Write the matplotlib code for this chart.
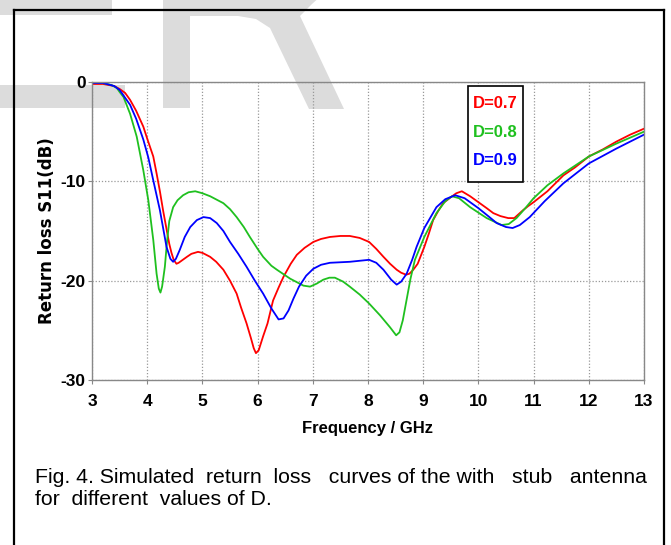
import numpy as np
import matplotlib
matplotlib.use("Agg")
import matplotlib.pyplot as plt
from matplotlib.lines import Line2D
from matplotlib.patches import Polygon, Rectangle

plt.rcParams['font.family'] = ['Liberation Sans', 'DejaVu Sans']
plt.rcParams['axes.unicode_minus'] = False

# S11 traces for the three stub values (GHz, dB)
freq_07 = [3.0, 3.2, 3.4, 3.5, 3.6, 3.69, 3.8, 3.93, 4.0, 4.11, 4.17, 4.23, 4.29, 4.35,
           4.4, 4.44, 4.48, 4.53, 4.57, 4.62, 4.72, 4.8, 4.92, 5.0, 5.14, 5.25, 5.38,
           5.5, 5.62, 5.7, 5.8, 5.88, 5.93, 5.97, 6.02, 6.1, 6.18, 6.28, 6.38, 6.47,
           6.6, 6.71, 6.85, 7.01, 7.15, 7.31, 7.5, 7.67, 7.85, 8.02, 8.15, 8.28, 8.4,
           8.52, 8.6, 8.69, 8.75, 8.82, 8.9, 9.02, 9.1, 9.18, 9.27, 9.36, 9.5, 9.6,
           9.7, 9.85, 10.0, 10.15, 10.27, 10.4, 10.54, 10.65, 10.81, 10.9, 11.0, 11.25,
           11.54, 11.75, 12.0, 12.25, 12.5, 12.75, 13.0]
s11_07 = [-0.2, -0.2, -0.4, -0.7, -1.1, -1.8, -2.9, -4.5, -5.7, -7.5, -9.2, -11.0, -13.0,
          -14.8, -16.3, -17.2, -17.9, -18.3, -18.2, -18.0, -17.6, -17.3, -17.1, -17.2,
          -17.6, -18.1, -18.9, -20.0, -21.3, -22.7, -24.3, -25.8, -26.8, -27.3, -27.0,
          -25.6, -24.3, -22.0, -20.7, -19.6, -18.3, -17.4, -16.7, -16.1, -15.8, -15.6,
          -15.5, -15.5, -15.7, -16.1, -16.8, -17.6, -18.3, -18.9, -19.2, -19.4, -19.3,
          -18.9, -18.3, -16.6, -15.3, -13.9, -13.0, -12.2, -11.6, -11.2, -11.0, -11.5,
          -12.1, -12.7, -13.2, -13.5, -13.7, -13.7, -12.9, -12.5, -12.1, -11.0, -9.4,
          -8.6, -7.5, -6.8, -6.0, -5.3, -4.7]

freq_08 = [3.0, 3.2, 3.35, 3.45, 3.5, 3.57, 3.69, 3.81, 3.93, 4.02, 4.11, 4.17, 4.21,
           4.24, 4.27, 4.32, 4.36, 4.4, 4.47, 4.55, 4.65, 4.75, 4.87, 5.0, 5.14, 5.38,
           5.5, 5.62, 5.75, 5.86, 6.0, 6.1, 6.25, 6.35, 6.59, 6.83, 6.95, 7.07, 7.19,
           7.3, 7.4, 7.55, 7.67, 7.85, 8.02, 8.22, 8.4, 8.51, 8.57, 8.63, 8.7, 8.77,
           8.85, 9.02, 9.24, 9.4, 9.52, 9.65, 9.85, 10.15, 10.42, 10.55, 10.69, 10.85,
           11.0, 11.25, 11.54, 12.0, 12.5, 13.0]
s11_08 = [0.0, -0.1, -0.3, -0.6, -1.0, -1.5, -3.2, -5.5, -8.9, -11.9, -15.9, -19.3, -20.8,
          -21.2, -20.6, -18.6, -16.0, -14.0, -12.6, -11.9, -11.4, -11.1, -11.0, -11.2,
          -11.5, -12.2, -12.8, -13.6, -14.6, -15.6, -16.8, -17.6, -18.5, -18.9, -19.8,
          -20.5, -20.6, -20.3, -19.9, -19.7, -19.7, -20.1, -20.6, -21.4, -22.3, -23.5,
          -24.7, -25.5, -25.2, -24.0, -21.9, -19.8, -17.9, -15.6, -13.2, -12.0, -11.5,
          -11.7, -12.6, -13.7, -14.4, -14.3, -13.7, -12.7, -11.7, -10.4, -9.2, -7.5,
          -6.2, -5.0]

freq_09 = [3.0, 3.2, 3.4, 3.5, 3.69, 3.8, 3.93, 4.02, 4.11, 4.23, 4.35, 4.42, 4.47, 4.52,
           4.59, 4.68, 4.78, 4.9, 5.02, 5.14, 5.26, 5.38, 5.5, 5.65, 5.8, 5.95, 6.1,
           6.25, 6.38, 6.47, 6.56, 6.65, 6.75, 6.88, 7.01, 7.15, 7.31, 7.67, 8.02, 8.15,
           8.28, 8.42, 8.52, 8.6, 8.7, 8.8, 8.88, 9.02, 9.24, 9.4, 9.58, 9.75, 10.0,
           10.2, 10.33, 10.5, 10.62, 10.75, 10.93, 11.2, 11.54, 12.0, 12.5, 13.0]
s11_09 = [-0.1, -0.1, -0.4, -0.8, -2.3, -3.7, -5.8, -7.6, -9.9, -12.9, -16.6, -17.8,
          -18.1, -17.8, -16.9, -15.6, -14.6, -13.9, -13.6, -13.7, -14.2, -15.0, -16.1,
          -17.3, -18.6, -20.0, -21.3, -22.8, -23.9, -23.8, -23.0, -21.8, -20.6, -19.5,
          -18.8, -18.4, -18.2, -18.1, -17.9, -18.2, -18.9, -19.9, -20.4, -20.1, -19.3,
          -17.9, -16.6, -14.7, -12.6, -11.8, -11.4, -11.7, -12.7, -13.6, -14.2, -14.6,
          -14.7, -14.4, -13.6, -12.0, -10.2, -8.2, -6.7, -5.3]

labels = ['D=0.7', 'D=0.8', 'D=0.9']
colors = ['#ff0000', '#1fc01f', '#0000ff']
xticks = list(range(3, 14))
yticks = [-30, -20, -10, 0]

W, H = 671, 545
fig = plt.figure(figsize=(W / 100, H / 100), dpi=100)


def px(pts):
    # pixel positions (y measured downward) to figure fractions
    return [(x / W, 1 - y / H) for x, y in pts]


# light grey watermark letters behind the chart
wm_shapes = [
    [(-5, -5), (112, -5), (112, 15), (-5, 15)],
    [(-5, 85), (125, 85), (125, 108), (-5, 108)],
    [(163, -5), (190, -5), (190, 108), (163, 108)],
    [(190, -5), (322, -5), (312, 4), (300, 16), (344, 109), (309, 109), (270, 28),
     (256, 19), (238, 16), (190, 16)],
]
for shp in wm_shapes:
    fig.add_artist(Polygon(px(shp), closed=True, facecolor='#dcdcdc', edgecolor='none',
                           transform=fig.transFigure, zorder=-5))

# page frame, open at the bottom
fw = 1.6
for xs, ys in [([14, 14], [545, 10]), ([664, 664], [545, 10]), ([14, 664], [10, 10])]:
    fig.add_artist(Line2D([x / W for x in xs], [1 - y / H for y in ys],
                          color='black', lw=fw))

ax = fig.add_axes([92 / W, 1 - 380 / H, 552 / W, 298 / H])
ax.set_facecolor('none')

for f, s, c in zip([freq_07, freq_08, freq_09], [s11_07, s11_08, s11_09], colors):
    ax.plot(f, s, color=c, lw=1.3)

ax.set_xlim(3, 13)
ax.set_ylim(-30, 0)
ax.set_xticks(xticks)
ax.set_yticks(yticks)
ax.grid(True, color='#999999', linestyle=(0, (1, 1.5)), linewidth=0.9)
for sp in ax.spines.values():
    sp.set_color('#888888')
    sp.set_linewidth(1.0)
ax.tick_params(colors='#888888', length=3, width=0.8, labelcolor='black')
ax.tick_params(axis='x', pad=7)
ax.tick_params(axis='y', pad=1.5)
for t in ax.get_xticklabels() + ax.get_yticklabels():
    t.set_fontweight('bold')
    t.set_fontsize(12.5)

ax.set_xlabel('Frequency / GHz', fontsize=12, fontweight='bold', labelpad=9)
ax.set_ylabel('Return loss S11(dB)', fontsize=12, fontweight='bold', labelpad=3,
              family='DejaVu Sans')

# key box: coloured labels only, no line samples
ax.add_patch(Rectangle((0.6812, 0.6644), 0.0996, 0.3222, transform=ax.transAxes,
                       facecolor='white', edgecolor='black', lw=1.2, zorder=5))
for i, (lab, c) in enumerate(zip(labels, colors)):
    ax.text(0.7310, 0.9295 - i * 0.0973, lab, transform=ax.transAxes, color=c,
            fontsize=12, fontweight='bold', ha='center', va='center', zorder=6)

fig.text(35 / W, 1 - 483 / H,
         'Fig. 4. Simulated  return  loss   curves of the with   stub   antenna',
         fontsize=15.3, ha='left', va='baseline')
fig.text(35 / W, 1 - 505 / H, 'for  different  values of D.',
         fontsize=15.3, ha='left', va='baseline')

fig.savefig('out.png', dpi=100)
